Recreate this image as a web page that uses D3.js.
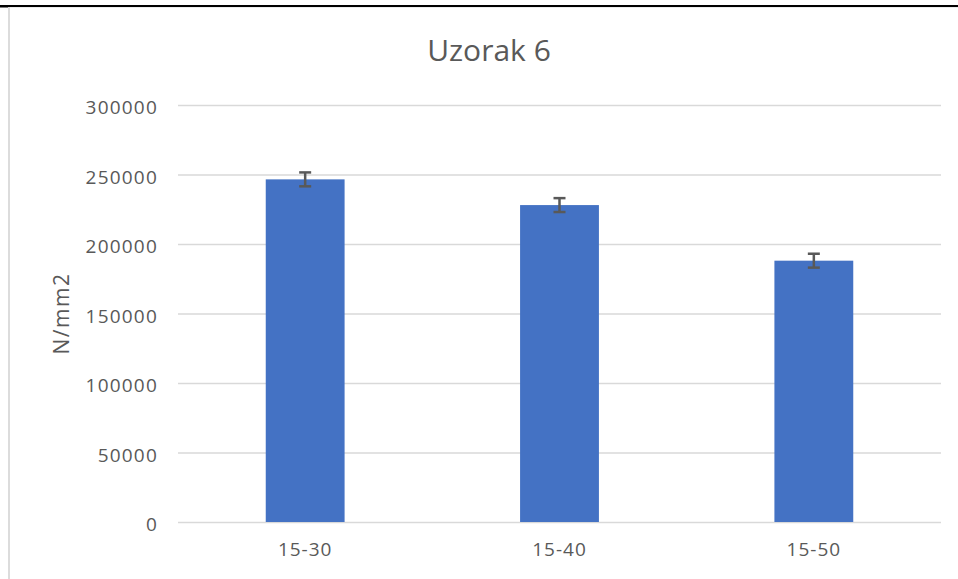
<!DOCTYPE html>
<html>
<head>
<meta charset="utf-8">
<script src="https://cdnjs.cloudflare.com/ajax/libs/d3/7.8.5/d3.min.js"></script>
<style>
  body { margin: 0; background: #fff; }
  svg { display: block; }
</style>
</head>
<body>
<div id="chart"></div>
<script>
(function chart(){
var categories = ["15-30", "15-40", "15-50"],
    values     = [246500, 228000, 188000],   // N/mm2
    errors     = [5000, 5000, 5000],         // +/- error bar
    yTicks     = [0, 50000, 100000, 150000, 200000, 250000, 300000];

var width = 958, height = 579,
    margin = {top: 105, right: 17, bottom: 57, left: 178}; // plot box

var textColor = "#595959",
    gridColor = "#d9d9d9",
    barColor  = "#4472c4";

var svg = d3.select("#chart").append("svg")
    .attr("width", width)
    .attr("height", height);

// frame of the screenshot
svg.append("rect")
  .attr("x", 0).attr("y", 5)
  .attr("width", width).attr("height", 2)
  .style("fill", "#000");
svg.append("rect")
  .attr("x", 0).attr("y", 5)
  .attr("width", 8).attr("height", 2.5)
  .style("fill", "#000");
svg.append("rect")
  .attr("x", 8).attr("y", 7)
  .attr("width", 2).attr("height", height - 7)
  .style("fill", "#dcdcdc");
svg.append("rect")
  .attr("x", 10).attr("y", 7)
  .attr("width", width - 10).attr("height", 1)
  .style("fill", "#ececec");

var x = d3.scaleBand()
    .domain(categories)
    .range([margin.left, width - margin.right])
    .paddingInner(0.69)
    .paddingOuter(0.345);

var y = d3.scaleLinear()
    .domain([0, 300000])
    .range([height - margin.bottom, margin.top]);

// gridlines + y labels
var yAxis = d3.axisLeft(y)
    .tickValues(yTicks)
    .tickSize(-(width - margin.left - margin.right))
    .tickPadding(20)
    .tickFormat(d3.format("d"));

var gy = svg.append("g")
    .attr("transform", "translate(" + margin.left + ",0)")
    .call(yAxis);
gy.select(".domain").remove();
gy.selectAll(".tick line")
  .style("stroke", gridColor)
  .style("stroke-width", 1.5);
gy.selectAll(".tick text")
  .style("fill", textColor)
  .style("font-family", "'Open Sans', sans-serif")
  .style("font-size", "19px")
  .style("letter-spacing", "1.2px")
  .attr("dy", "0.45em");

// bars
svg.selectAll(".bar")
    .data(values)
  .enter().append("rect")
    .attr("class", "bar")
    .attr("x", function(d, i){ return x(categories[i]); })
    .attr("y", function(d){ return y(d); })
    .attr("width", x.bandwidth())
    .attr("height", function(d){ return y(0) - y(d); })
    .style("fill", barColor);

// error bars
var err = svg.selectAll(".err")
    .data(values)
  .enter().append("g")
    .attr("class", "err")
    .style("stroke", textColor)
    .style("stroke-width", 2.5);

err.append("line")
  .attr("x1", function(d, i){ return x(categories[i]) + x.bandwidth() / 2; })
  .attr("x2", function(d, i){ return x(categories[i]) + x.bandwidth() / 2; })
  .attr("y1", function(d, i){ return y(d + errors[i]); })
  .attr("y2", function(d, i){ return y(d - errors[i]); });
err.append("line")
  .attr("x1", function(d, i){ return x(categories[i]) + x.bandwidth() / 2 - 6; })
  .attr("x2", function(d, i){ return x(categories[i]) + x.bandwidth() / 2 + 6; })
  .attr("y1", function(d, i){ return y(d + errors[i]); })
  .attr("y2", function(d, i){ return y(d + errors[i]); });
err.append("line")
  .attr("x1", function(d, i){ return x(categories[i]) + x.bandwidth() / 2 - 6; })
  .attr("x2", function(d, i){ return x(categories[i]) + x.bandwidth() / 2 + 6; })
  .attr("y1", function(d, i){ return y(d - errors[i]); })
  .attr("y2", function(d, i){ return y(d - errors[i]); });

// x labels
var xAxis = d3.axisBottom(x).tickSize(0).tickPadding(21);
var gx = svg.append("g")
    .attr("transform", "translate(0," + y(0) + ")")
    .call(xAxis);
gx.select(".domain").remove();
gx.selectAll(".tick text")
  .style("fill", textColor)
  .style("font-family", "'Open Sans', sans-serif")
  .style("font-size", "19px")
  .style("letter-spacing", "1px");

// title
svg.append("text")
  .attr("x", 489)
  .attr("y", 61)
  .attr("text-anchor", "middle")
  .text("Uzorak 6")
  .style("font-family", "'Open Sans', sans-serif")
  .style("font-size", "30px")
  .style("fill", textColor);

// y axis title
svg.append("text")
  .attr("transform", "translate(69," + (margin.top + y(0)) / 2 + ") rotate(-90)")
  .attr("text-anchor", "middle")
  .text("N/mm2")
  .style("font-family", "'Open Sans', sans-serif")
  .style("font-size", "21px")
  .style("letter-spacing", "1.5px")
  .style("fill", textColor);
}());
</script>
</body>
</html>
